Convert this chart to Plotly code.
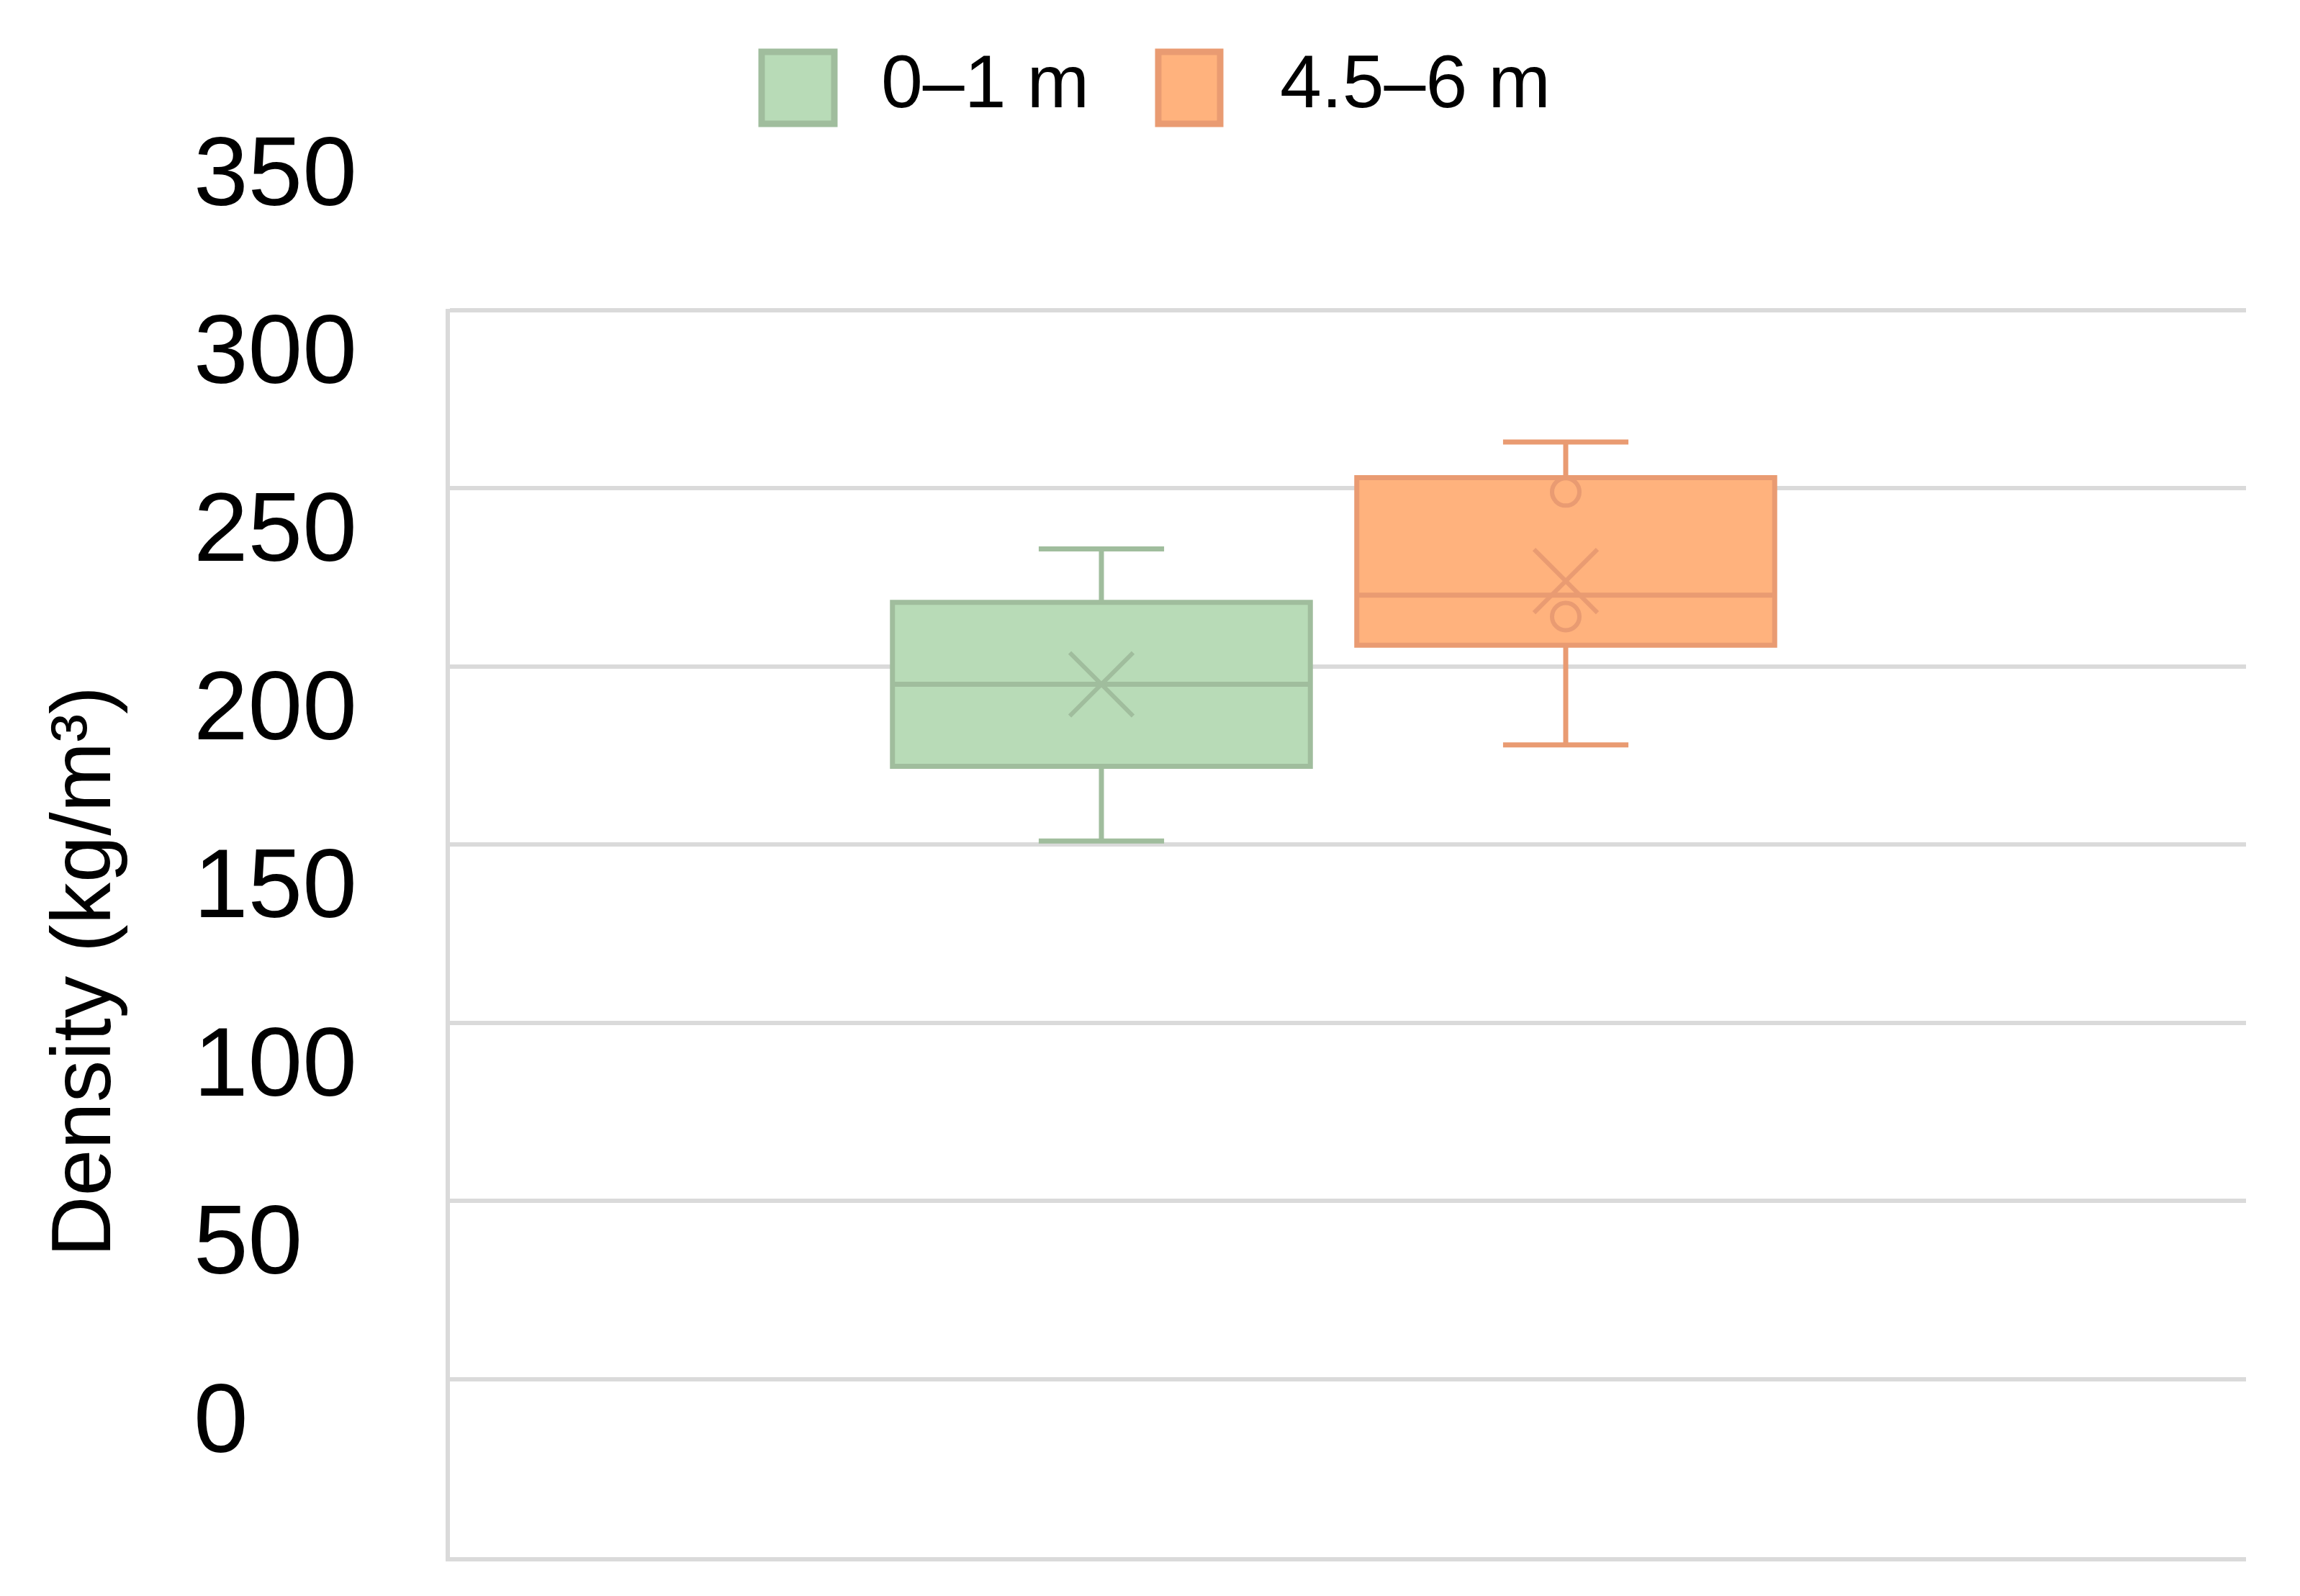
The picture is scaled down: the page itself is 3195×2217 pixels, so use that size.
import plotly.graph_objects as go

# ---- data ----
groups = ["0–1 m", "4.5–6 m"]
lower_fence = [201, 228]
q1 = [222, 256]
median = [245, 270]
q3 = [268, 303]
upper_fence = [283, 313]
means = [245, 274]
inner_points = [[], [299, 264]]
y_ticks = [0, 50, 100, 150, 200, 250, 300, 350]
y_tick_labels = ["0", "50", "100", "150", "200", "250", "300", "350"]
y_title = "Density (kg/m³)"

fill_colors = ["#B8DBB7", "#FFB27D"]
line_colors = ["#A0BD9D", "#E99B72"]

W, H = 3195, 2217
Y_TOP = 350.4
ML, MR, MB = 625, 75, 54
MT = 429
FONT = "Liberation Sans, Arial, sans-serif"

fig = go.Figure()
for i, g in enumerate(groups):
    fig.add_trace(go.Box(
        x=[g], q1=[q1[i]], median=[median[i]], q3=[q3[i]],
        lowerfence=[lower_fence[i]], upperfence=[upper_fence[i]],
        name=g, fillcolor=fill_colors[i],
        line=dict(color=line_colors[i], width=7),
        width=0.90, whiskerwidth=0.30, boxpoints=False,
        showlegend=False, hoverinfo="skip",
    ))
    fig.add_trace(go.Scatter(
        x=[g], y=[means[i]], mode="markers", showlegend=False,
        marker=dict(symbol="x-thin-open", size=88, color=line_colors[i],
                    line=dict(width=6, color=line_colors[i])),
        hoverinfo="skip",
    ))
    if inner_points[i]:
        fig.add_trace(go.Scatter(
            x=[g] * len(inner_points[i]), y=inner_points[i], mode="markers",
            showlegend=False,
            marker=dict(symbol="circle-open", size=38, color=line_colors[i],
                        line=dict(width=6, color=line_colors[i])),
            hoverinfo="skip",
        ))

# padded tick text so right-aligned labels look left-aligned
maxlen = max(len(t) for t in y_tick_labels)
ticktext = [t + "\u2007" * (maxlen - len(t)) for t in y_tick_labels]

pw, ph = W - ML - MR, H - MT - MB


def px_x(p):
    return (p - ML) / pw


def px_y(p):
    return (H - MB - p) / ph


# custom legend (large swatches as in the reference)
shapes = []
annotations = []
legend_items = [(1058, 1159, 1222), (1609, 1695, 1776)]
for i, (x0, x1, tx) in enumerate(legend_items):
    shapes.append(dict(type="rect", xref="paper", yref="paper",
                       x0=px_x(x0), x1=px_x(x1), y0=px_y(172), y1=px_y(72),
                       fillcolor=fill_colors[i],
                       line=dict(color=line_colors[i], width=9)))
    annotations.append(dict(xref="paper", yref="paper", x=px_x(tx), y=px_y(113),
                            xanchor="left", yanchor="middle", showarrow=False,
                            text=groups[i],
                            font=dict(family=FONT, size=104, color="black")))

# y-axis title
annotations.append(dict(xref="paper", yref="paper", x=px_x(112), y=px_y(1350),
                        xanchor="center", yanchor="middle", showarrow=False,
                        textangle=-90, text=y_title,
                        font=dict(family=FONT, size=117, color="black")))

fig.update_layout(
    width=W, height=H,
    margin=dict(l=ML, r=MR, t=MT, b=MB, pad=0),
    paper_bgcolor="white", plot_bgcolor="white",
    font=dict(family=FONT, color="black"),
    shapes=shapes, annotations=annotations,
    showlegend=False,
)
fig.update_xaxes(
    type="category", categoryarray=groups, range=[-1.4031, 2.4651],
    showticklabels=False, showgrid=False, zeroline=False,
    showline=True, linecolor="#DADADA", linewidth=6, ticks="",
    automargin=False,
)
fig.update_yaxes(
    range=[0, Y_TOP], tickvals=y_ticks, ticktext=ticktext,
    showgrid=True, gridcolor="#DADADA", gridwidth=6,
    zeroline=False, showline=True, linecolor="#DADADA", linewidth=6,
    ticks="", ticklabelshift=-194, ticklabelstandoff=96,
    tickfont=dict(family=FONT, size=136, color="black"),
    automargin=False,
)

fig.write_html("out.html", config={"displayModeBar": False},
               post_script="document.body.style.margin='0';")
